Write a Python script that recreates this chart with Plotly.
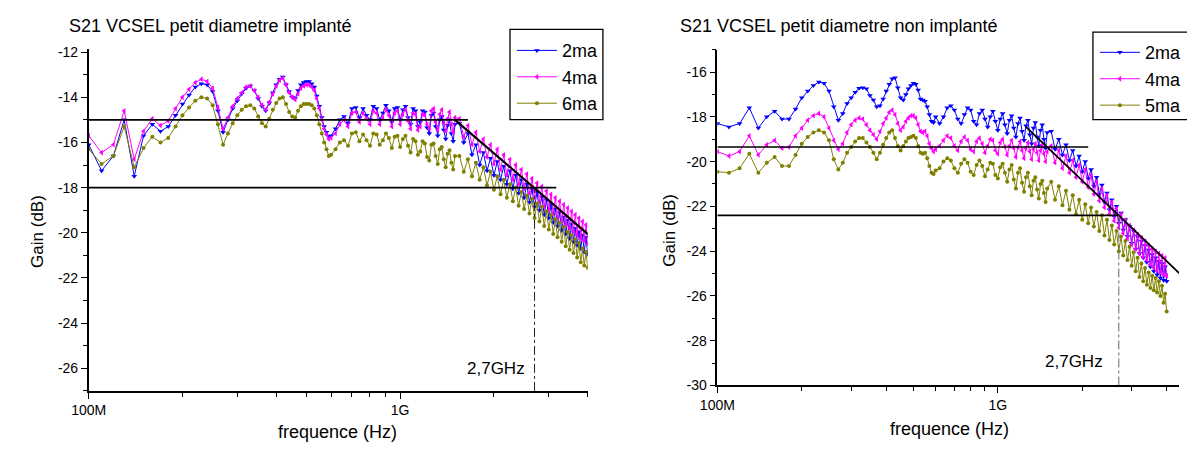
import math
import plotly.graph_objects as go

# ---------------- data ----------------
freq_mhz = [
    100, 110, 120, 130, 140, 150, 160, 170, 180, 190,
    200, 210, 220, 230, 240, 250, 260, 270, 280, 290,
    300, 310, 320, 330, 340, 350, 360, 370, 380, 390,
    400, 410, 420, 430, 440, 450, 460, 470, 480, 490,
    500, 510, 520, 530, 540, 550, 560, 570, 580, 590,
    600,
    620, 640, 660, 680, 700, 720, 740, 760, 780, 800,
    820, 840, 860, 880, 900, 920, 940, 960, 980, 1000,
    1020, 1040, 1060, 1080, 1100, 1120, 1140, 1160, 1180, 1200,
    1220, 1240, 1260, 1280, 1300, 1320, 1340, 1360, 1380, 1400,
    1420, 1440, 1460, 1480, 1500,
    1550, 1600, 1650, 1700, 1750, 1800, 1850, 1900, 1950, 2000,
    2050, 2100, 2150, 2200, 2250, 2300, 2350, 2400, 2450, 2500,
    2550, 2600, 2650, 2700, 2750, 2800, 2850, 2900, 2950, 3000,
    3050, 3100, 3150, 3200, 3250, 3300, 3350, 3400, 3450, 3500,
    3550, 3600, 3650, 3700, 3750, 3800, 3850, 3900, 3950, 4000,
]

# implanté
impl_2ma = [
    -16.1, -17.25, -16.6, -15.0, -17.5, -15.7, -15.2, -15.5, -15.3, -14.8,
    -14.3, -13.9, -13.55, -13.4, -13.45, -13.75, -14.6, -15.55, -15.0, -14.5,
    -14.15, -13.85, -13.6, -13.5, -13.7, -14.05, -14.4, -14.6, -14.25, -13.8,
    -13.45, -13.2, -13.1, -13.45, -13.75, -14.0, -14.05, -13.7, -13.45, -13.35,
    -13.3, -13.3, -13.4, -13.55, -13.95, -14.4, -14.9, -15.3, -15.55, -15.75,
    -15.7,
    -15.4, -15.0, -14.85, -15.15, -14.5, -14.45, -14.9, -14.5, -14.8, -15.0,
    -14.4, -14.5, -15.0, -14.7, -14.35, -14.6, -15.1, -14.5, -14.45, -15.0,
    -14.55, -14.4, -14.9, -15.2, -14.5, -14.6, -15.3, -15.1, -14.6, -14.65,
    -15.35, -15.6, -14.8, -14.7, -15.3, -15.7, -15.0, -14.85, -15.45, -15.85,
    -15.25, -15.0, -15.6, -15.95, -15.2,
    -15.15, -16.0, -15.6, -16.55, -16.1, -17.0, -16.45, -17.25, -16.7, -17.45,
    -16.85, -17.65, -17.05, -17.85, -17.25, -18.05, -17.45, -18.25, -17.65, -18.45,
    -17.85, -18.65, -18.05, -18.85, -18.2, -19.0, -18.4, -19.2, -18.55, -19.35,
    -18.75, -19.55, -18.95, -19.7, -19.1, -19.9, -19.3, -20.05, -19.45, -20.25,
    -19.6, -20.4, -19.8, -20.55, -19.95, -20.7, -20.1, -20.85, -20.2, -20.95,
]
impl_4ma = [
    -15.7, -16.45, -16.1, -14.6, -16.75, -15.5, -14.95, -15.25, -15.05, -14.5,
    -14.0, -13.65, -13.35, -13.2, -13.3, -13.6, -14.45, -15.4, -14.9, -14.4,
    -14.05, -13.8, -13.55, -13.5, -13.7, -14.0, -14.35, -14.55, -14.2, -13.85,
    -13.5, -13.25, -13.15, -13.45, -13.8, -14.0, -14.1, -13.85, -13.6, -13.5,
    -13.45, -13.45, -13.55, -13.7, -14.05, -14.5, -15.0, -15.4, -15.65, -15.85,
    -15.8,
    -15.6, -15.2, -15.0, -15.3, -14.7, -14.65, -15.1, -14.7, -14.95, -15.2,
    -14.6, -14.7, -15.2, -14.9, -14.55, -14.8, -15.3, -14.7, -14.6, -15.2,
    -14.75, -14.55, -15.05, -15.4, -14.7, -14.75, -15.45, -15.3, -14.75, -14.8,
    -15.2, -15.4, -14.6, -14.5, -15.1, -15.45, -14.75, -14.55, -15.15, -15.5,
    -14.95, -14.65, -15.2, -15.55, -14.9,
    -14.95, -15.75, -15.25, -16.1, -15.55, -16.4, -15.85, -16.65, -16.1, -16.95,
    -16.3, -17.2, -16.55, -17.45, -16.75, -17.65, -17.0, -17.85, -17.2, -18.05,
    -17.4, -18.25, -17.6, -18.45, -17.8, -18.65, -17.95, -18.85, -18.15, -19.0,
    -18.3, -19.15, -18.45, -19.35, -18.6, -19.5, -18.75, -19.65, -18.9, -19.8,
    -19.05, -19.95, -19.2, -20.1, -19.35, -20.25, -19.5, -20.35, -19.65, -20.5,
]
impl_6ma = [
    -16.3, -16.95, -16.6, -15.3, -17.1, -16.25, -15.75, -16.0, -15.8, -15.3,
    -14.8, -14.45, -14.15, -14.0, -14.05, -14.35, -15.2, -16.1, -15.6, -15.15,
    -14.8, -14.55, -14.4, -14.35, -14.5, -14.85, -15.15, -15.3, -14.95, -14.55,
    -14.25, -14.05, -14.0, -14.3, -14.65, -14.85, -14.9, -14.6, -14.4, -14.3,
    -14.3, -14.3, -14.35, -14.5, -14.8, -15.2, -15.6, -16.0, -16.3, -16.6,
    -16.55,
    -16.3, -16.0, -15.9, -16.15, -15.6, -15.55, -15.95, -15.65, -15.9, -16.15,
    -15.6, -15.65, -16.1, -15.9, -15.6, -15.8, -16.25, -15.75, -15.7, -16.2,
    -15.85, -15.7, -16.15, -16.45, -15.85, -15.95, -16.55, -16.4, -15.95, -16.05,
    -16.65, -16.8, -16.1, -16.05, -16.6, -16.95, -16.3, -16.2, -16.75, -17.1,
    -16.5, -16.35, -16.9, -17.2, -16.6,
    -16.6, -17.3, -16.75, -17.5, -16.9, -17.65, -17.1, -17.9, -17.3, -18.1,
    -17.5, -18.3, -17.65, -18.45, -17.85, -18.6, -18.0, -18.8, -18.2, -18.95,
    -18.35, -19.15, -18.5, -19.35, -18.7, -19.5, -18.85, -19.7, -19.05, -19.85,
    -19.2, -20.05, -19.4, -20.2, -19.55, -20.4, -19.75, -20.6, -19.95, -20.75,
    -20.1, -20.9, -20.3, -21.1, -20.45, -21.3, -20.7, -21.45, -20.85, -21.55,
]

# non implanté
nonimpl_2ma = [
    -18.3, -18.45, -18.3, -17.6, -18.5, -18.0, -17.75, -18.1, -18.1, -17.65,
    -17.15, -16.85, -16.6, -16.45, -16.5, -16.85, -17.55, -18.15, -17.85, -17.4,
    -17.15, -16.9, -16.72, -16.7, -16.75, -17.05, -17.25, -17.55, -17.5, -17.2,
    -16.85, -16.55, -16.3, -16.25, -16.7, -17.15, -17.25, -17.0, -16.75, -16.6,
    -16.5, -16.55, -16.8, -17.2, -17.25, -17.3, -17.55, -17.9, -18.2, -18.25,
    -18.0,
    -18.3, -18.0, -17.6, -17.5, -17.7, -18.1, -18.3, -17.9, -17.6, -17.7,
    -18.2, -18.35, -17.85, -17.7, -18.1, -18.45, -18.0, -17.75, -18.2, -18.6,
    -18.1, -17.85, -18.35, -18.75, -18.15, -17.95, -18.5, -18.9, -18.3, -18.05,
    -18.65, -19.05, -18.4, -18.15, -18.8, -19.2, -18.5, -18.25, -18.9, -19.3,
    -18.6, -18.35, -19.0, -19.4, -18.7,
    -18.65, -19.45, -19.0, -19.7, -19.25, -19.95, -19.5, -20.2, -19.75, -20.45,
    -20.0, -20.75, -20.35, -21.1, -20.7, -21.45, -21.05, -21.8, -21.4, -22.15,
    -21.7, -22.45, -22.0, -22.75, -22.3, -23.05, -22.6, -23.35, -22.9, -23.65,
    -23.1, -23.9, -23.35, -24.1, -23.55, -24.3, -23.75, -24.5, -23.95, -24.7,
    -24.15, -24.9, -24.3, -25.05, -24.45, -25.2, -24.55, -25.3, -24.7, -25.35,
]
nonimpl_4ma = [
    -19.55, -19.75, -19.55, -18.85, -19.7, -19.25, -19.05, -19.4, -19.35, -18.85,
    -18.5, -18.15, -17.95, -17.85, -18.0, -18.5, -19.05, -19.45, -19.2, -18.7,
    -18.35, -18.15, -18.05, -18.1, -18.35, -18.6, -18.8, -19.0, -18.65, -18.3,
    -18.05, -17.8, -17.7, -17.9, -18.3, -18.6, -18.45, -18.2, -18.05, -17.95,
    -17.95, -18.05, -18.35, -18.65, -18.7, -18.65, -18.85, -19.2, -19.4, -19.55,
    -19.45,
    -19.3, -19.05, -18.85, -18.95, -19.3, -19.5, -19.1, -18.9, -19.05, -19.45,
    -19.55, -19.1, -18.95, -19.2, -19.6, -19.3, -19.0, -19.05, -19.5, -19.65,
    -19.15, -19.0, -19.35, -19.7, -19.3, -19.05, -19.4, -19.8, -19.35, -19.1,
    -19.5, -19.85, -19.4, -19.15, -19.55, -19.9, -19.45, -19.2, -19.6, -19.95,
    -19.5, -19.25, -19.65, -20.0, -19.55,
    -19.3, -20.05, -19.5, -20.3, -19.75, -20.5, -19.95, -20.7, -20.15, -20.9,
    -20.35, -21.15, -20.6, -21.45, -20.9, -21.75, -21.2, -22.05, -21.5, -22.35,
    -21.8, -22.65, -22.1, -22.95, -22.35, -23.2, -22.6, -23.45, -22.85, -23.7,
    -23.05, -23.9, -23.25, -24.1, -23.4, -24.25, -23.55, -24.4, -23.75, -24.6,
    -23.9, -24.75, -24.0, -24.85, -24.1, -24.95, -24.2, -25.05, -24.3, -25.1,
]
nonimpl_5ma = [
    -20.45, -20.5, -20.3, -19.65, -20.5, -20.05, -19.8, -20.2, -20.2, -19.7,
    -19.2, -18.9, -18.7, -18.6, -18.7, -19.05, -19.9, -20.35, -20.05, -19.6,
    -19.35, -19.1, -18.95, -18.95, -19.15, -19.35, -19.6, -19.9, -19.6, -19.25,
    -18.95, -18.7, -18.6, -18.95, -19.3, -19.5, -19.3, -19.1, -18.95, -18.9,
    -18.85, -18.95, -19.3, -19.6, -19.65, -19.6, -19.85, -20.2, -20.5, -20.55,
    -20.4,
    -20.3, -20.0, -19.85, -19.95, -20.3, -20.5, -20.1, -19.9, -20.05, -20.45,
    -20.6, -20.15, -19.95, -20.2, -20.65, -20.35, -20.05, -20.1, -20.6, -20.75,
    -20.25, -20.1, -20.5, -20.9, -20.35, -20.15, -20.8, -21.2, -20.5, -20.3,
    -20.95, -21.35, -20.7, -20.5, -21.1, -21.5, -20.85, -20.7, -21.25, -21.65,
    -21.0, -20.85, -21.4, -21.8, -21.2,
    -20.9, -21.7, -21.1, -21.95, -21.3, -22.15, -21.5, -22.35, -21.7, -22.6,
    -21.9, -22.75, -22.05, -22.9, -22.25, -23.1, -22.4, -23.3, -22.6, -23.5,
    -22.85, -23.7, -23.1, -24.0, -23.35, -24.2, -23.55, -24.4, -23.8, -24.65,
    -24.05, -24.9, -24.3, -25.15, -24.55, -25.35, -24.75, -25.5, -24.95, -25.65,
    -25.1, -25.75, -25.2, -25.85, -25.35, -26.0, -25.55, -26.3, -25.9, -26.7,
]

# construction lines (frequency in Hz, gain in dB)
impl_ref_15_f = [1e8, 1.65e9]
impl_ref_15_g = [-15.0, -15.0]
impl_ref_18_f = [1e8, 3.17e9]
impl_ref_18_g = [-18.0, -18.0]
impl_slope_f = [1.5e9, 4.45e9]
impl_slope_g = [-15.0, -20.6]
impl_cut_f = [2.7e9, 2.7e9]
impl_cut_g = [-27.0, -18.0]

non_ref_a_f = [1e8, 2.1e9]
non_ref_a_g = [-19.35, -19.35]
non_ref_b_f = [1e8, 2.7e9]
non_ref_b_g = [-22.4, -22.4]
non_slope_f = [1.26e9, 4.45e9]
non_slope_g = [-18.45, -25.0]
non_cut_f = [2.7e9, 2.7e9]
non_cut_g = [-30.0, -22.4]

labels_left = ["2ma", "4ma", "6ma"]
labels_right = ["2ma", "4ma", "5ma"]
x_major_vals = [1e8, 1e9]
x_major_text = ["100M", "1G"]
x_minor_vals = [2e8, 3e8, 4e8, 5e8, 6e8, 7e8, 8e8, 9e8, 2e9, 3e9, 4e9]
y_left_ticks = [-26, -24, -22, -20, -18, -16, -14, -12]
y_right_ticks = [-30, -28, -26, -24, -22, -20, -18, -16]

# ---------------- figure ----------------
FONT = "Arial, Liberation Sans, sans-serif"
W, H = 1187, 453
freq_hz = [f * 1e6 for f in freq_mhz]

BLUE = "#0000FF"
MAG = "#FF00FF"
OLIVE = "#808000"
styles = [
    (BLUE, "triangle-down", 5),
    (MAG, "triangle-left", 5),
    (OLIVE, "circle", 4),
]

fig = go.Figure()

for series, lab, (col, sym, sz) in zip([impl_2ma, impl_4ma, impl_6ma], labels_left, styles):
    fig.add_trace(go.Scatter(
        x=freq_hz, y=series, name=lab, mode="lines+markers",
        line=dict(color=col, width=1),
        marker=dict(symbol=sym, size=sz, color=col, line=dict(width=0)),
        xaxis="x", yaxis="y", legend="legend",
    ))

for series, lab, (col, sym, sz) in zip([nonimpl_2ma, nonimpl_4ma, nonimpl_5ma], labels_right, styles):
    fig.add_trace(go.Scatter(
        x=freq_hz, y=series, name=lab, mode="lines+markers",
        line=dict(color=col, width=1),
        marker=dict(symbol=sym, size=sz, color=col, line=dict(width=0)),
        xaxis="x2", yaxis="y2", legend="legend2",
    ))


def ref_line(xs, ys, ax, ay, width=1.5, dash="solid", color="black"):
    fig.add_trace(go.Scatter(
        x=xs, y=ys, mode="lines", showlegend=False, hoverinfo="skip",
        line=dict(color=color, width=width, dash=dash),
        xaxis=ax, yaxis=ay,
    ))


ref_line(impl_ref_15_f, impl_ref_15_g, "x", "y", 1.6)
ref_line(impl_ref_18_f, impl_ref_18_g, "x", "y", 1.6)
ref_line(impl_slope_f, impl_slope_g, "x", "y", 2.2)
ref_line(impl_cut_f, impl_cut_g, "x", "y", 1, "dashdot", "#222222")
ref_line(non_ref_a_f, non_ref_a_g, "x2", "y2", 1.6)
ref_line(non_ref_b_f, non_ref_b_g, "x2", "y2", 1.6)
ref_line(non_slope_f, non_slope_g, "x2", "y2", 1.8)
ref_line(non_cut_f, non_cut_g, "x2", "y2", 1, "dashdot", "#666666")

axis_common = dict(
    showgrid=False, zeroline=False, showline=True, linecolor="black", linewidth=1.5,
    ticks="outside", tickcolor="black", tickwidth=1.3, ticklen=6,
    tickfont=dict(family=FONT, size=14, color="black"),
)

xaxis_common = dict(axis_common, type="log", tickmode="array",
                    tickvals=x_major_vals, ticktext=x_major_text,
                    minor=dict(tickmode="array", tickvals=x_minor_vals, ticklen=4,
                               tickcolor="black", ticks="outside", showgrid=False))

fig.update_layout(
    width=W, height=H,
    margin=dict(l=0, r=0, t=0, b=0),
    paper_bgcolor="white", plot_bgcolor="white",
    font=dict(family=FONT, color="black"),
    xaxis=dict(xaxis_common, domain=[0.0609, 0.4907],
               range=[8, math.log10(4.0e9)], anchor="y"),
    yaxis=dict(axis_common, domain=[0.1230, 0.9007], range=[-27, -11.85], anchor="x",
               tickmode="array", tickvals=y_left_ticks, ticktext=[str(v) for v in y_left_ticks],
               minor=dict(tickmode="linear", tick0=-27, dtick=1, ticklen=4,
                          tickcolor="black", ticks="outside", showgrid=False)),
    xaxis2=dict(xaxis_common, domain=[0.6024, 1.0],
                range=[8, 9.646], anchor="y2"),
    yaxis2=dict(axis_common, domain=[0.1353, 0.8985], range=[-30, -15], anchor="x2",
                tickmode="array", tickvals=y_right_ticks, ticktext=[str(v) for v in y_right_ticks],
                minor=dict(tickmode="linear", tick0=-30, dtick=1, ticklen=4,
                           tickcolor="black", ticks="outside", showgrid=False)),
    legend=dict(x=505 / W, y=1 - 28 / H, xanchor="left", yanchor="top",
                bgcolor="rgba(0,0,0,0)", borderwidth=0,
                font=dict(family=FONT, size=18, color="black"),
                tracegroupgap=0, itemwidth=40),
    legend2=dict(x=1101 / W, y=1 - 30 / H, xanchor="left", yanchor="top",
                 bgcolor="rgba(0,0,0,0)", borderwidth=0,
                 font=dict(family=FONT, size=18, color="black"),
                 tracegroupgap=0, itemwidth=40),
    showlegend=True,
)

# legend frames
fig.add_shape(type="rect", xref="paper", yref="paper",
              x0=503 / W, x1=598 / W, y0=1 - 118 / H, y1=1 - 25 / H,
              line=dict(color="black", width=1.3), fillcolor="rgba(0,0,0,0)")
fig.add_shape(type="rect", xref="paper", yref="paper",
              x0=1099 / W, x1=1.01, y0=1 - 118 / H, y1=1 - 28 / H,
              line=dict(color="black", width=1.3), fillcolor="rgba(0,0,0,0)")

ann_font = dict(family=FONT, size=17, color="black")
xt_font = dict(family=FONT, size=18, color="black")
title_font = dict(family=FONT, size=18, color="black")
fig.add_annotation(text="S21 VCSEL petit diametre implanté", xref="paper", yref="paper",
                   x=50 / W, y=1 - 22 / H, xanchor="left", yanchor="middle",
                   showarrow=False, font=title_font)
fig.add_annotation(text="S21 VCSEL petit diametre non implanté", xref="paper", yref="paper",
                   x=675 / W, y=1 - 22 / H, xanchor="left", yanchor="middle",
                   showarrow=False, font=title_font)
fig.add_annotation(text="Gain (dB)", xref="paper", yref="paper", textangle=-90,
                   x=20 / W, y=1 - 233 / H, xanchor="center", yanchor="middle",
                   showarrow=False, font=ann_font)
fig.add_annotation(text="Gain (dB)", xref="paper", yref="paper", textangle=-90,
                   x=666 / W, y=1 - 232 / H, xanchor="center", yanchor="middle",
                   showarrow=False, font=ann_font)
fig.add_annotation(text="frequence (Hz)", xref="paper", yref="paper",
                   x=327 / W, y=1 - 440 / H, xanchor="center", yanchor="middle",
                   showarrow=False, font=xt_font)
fig.add_annotation(text="frequence (Hz)", xref="paper", yref="paper",
                   x=952 / W, y=1 - 437 / H, xanchor="center", yanchor="middle",
                   showarrow=False, font=xt_font)
fig.add_annotation(text="2,7GHz", xref="x", yref="y",
                   x=math.log10(impl_cut_f[0]) - 0.023, y=-26.0, xanchor="right", yanchor="middle",
                   showarrow=False, font=ann_font)
fig.add_annotation(text="2,7GHz", xref="x2", yref="y2",
                   x=math.log10(non_cut_f[0]) - 0.05, y=-28.95, xanchor="right", yanchor="middle",
                   showarrow=False, font=ann_font)

fig.write_html("out.html", config={"displayModeBar": False},
               post_script="document.body.style.margin='0';")
